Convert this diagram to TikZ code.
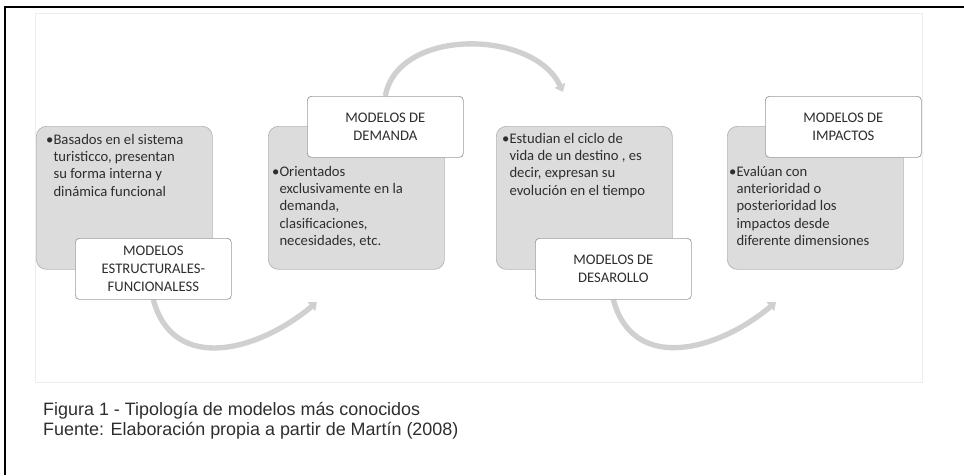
\documentclass[tikz,border=0pt]{standalone}
\usepackage{fontspec}
\setmainfont{Carlito}
\newfontfamily\capfont{Liberation Sans}
\usepackage{tikz}
\usetikzlibrary{arrows.meta,backgrounds,calc,positioning}
\definecolor{boxgray}{HTML}{DCDCDC}
\definecolor{boxline}{HTML}{B4B4B4}
\definecolor{labline}{HTML}{9A9A9A}
\definecolor{arrgray}{HTML}{D0D0D0}
\definecolor{txtgray}{HTML}{2E2E2E}
\newcommand{\ind}{\hphantom{\textbullet}}
\tikzset{
  modbox/.style={draw=boxline, fill=boxgray, rounded corners=0.3cm, minimum width=5.28cm, minimum height=4.29cm, anchor=north west, line width=0.6pt},
  labbox/.style={draw=labline, fill=white, rounded corners=0.12cm, minimum width=4.68cm, minimum height=1.83cm, anchor=north west, align=center, text=txtgray, font=\fontsize{12.5}{15.3}\selectfont, line width=0.6pt},
  bultxt/.style={anchor=north west, align=left, inner sep=0pt, text=txtgray, font=\fontsize{12.5}{14.7}\selectfont},
  flecha/.style={draw=arrgray, line width=0.16cm, -{Triangle[width=0.34cm,length=0.22cm]}}
}
\begin{document}
\begin{tikzpicture}[x=0.03cm,y=-0.03cm]
\useasboundingbox (0,0) rectangle (964,475);
\draw[line width=0.06cm] (5,475) -- (5,7) -- (964,7);
\node[modbox] (b1) at (36,126) {};
\node[modbox] (b2) at (268,126) {};
\node[modbox] (b3) at (496,126) {};
\node[modbox] (b4) at (727,126) {};
\node[bultxt] (t1) at (46,134) {\textbullet Basados en el sistema\\\ind turisticco, presentan\\\ind su forma interna y\\\ind din\'amica funcional};
\node[bultxt] (t2) at (272,166) {\textbullet Orientados\\\ind exclusivamente en la\\\ind demanda,\\\ind clasificaciones,\\\ind necesidades, etc.};
\node[bultxt] (t3) at (502,133) {\textbullet Estudian el ciclo de\\\ind vida de un destino , es\\\ind decir, expresan su\\\ind evoluci\'on en el tiempo};
\node[bultxt] (t4) at (729,166) {\textbullet Eval\'uan con\\\ind anterioridad o\\\ind posterioridad los\\\ind impactos desde\\\ind diferente dimensiones};
\node[labbox] (l1) at (75,238) {MODELOS\\ESTRUCTURALES-\\FUNCIONALESS};
\node[labbox] (l2) at (307,96) {MODELOS DE\\DEMANDA};
\node[labbox] (l3) at (535,238) {MODELOS DE\\DESAROLLO};
\node[labbox] (l4) at (765,96) {MODELOS DE\\IMPACTOS};
\coordinate (p1) at (317,302);
\coordinate (p2) at (563,92);
\coordinate (p3) at (776,302);
\begin{scope}[on background layer]
\draw[draw=black!7] (35,13) rectangle (922,382);
\draw[flecha] (l1.south) to[out=-75,in=-140,looseness=1.2] (p1);
\draw[flecha] (l2.north) to[out=80,in=115] (p2);
\draw[flecha] (l3.south) to[out=-75,in=-140,looseness=1.2] (p3);
\end{scope}
\node[anchor=north west, align=left, inner sep=0pt, text=txtgray, font=\capfont\fontsize{15.3}{17.5}\selectfont] (cap) at (43,402) {Figura 1 - Tipolog\'ia de modelos m\'as conocidos\\Fuente: Elaboraci\'on propia a partir de Mart\'in (2008)};
\end{tikzpicture}
\end{document}
